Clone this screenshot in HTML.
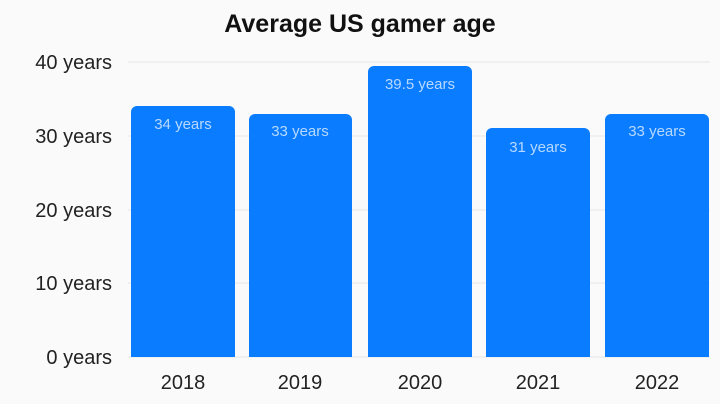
<!DOCTYPE html>
<html><head><meta charset="utf-8"><style>
body{margin:0;background:#fafafa;}
svg{display:block;font-family:"Liberation Sans",sans-serif;}
</style></head><body>
<svg width="720" height="404" viewBox="0 0 720 404">
<rect width="720" height="404" fill="#fafafa"/>
<text x="360" y="32" text-anchor="middle" font-size="25" font-weight="bold" fill="#111">Average US gamer age</text>
<g stroke="#e6e6e6" stroke-width="1">
<line x1="128" y1="62" x2="710" y2="62"/>
<line x1="128" y1="136" x2="710" y2="136"/>
<line x1="128" y1="210" x2="710" y2="210"/>
<line x1="128" y1="283" x2="710" y2="283"/>
<line x1="128" y1="357" x2="710" y2="357"/>
</g>
<g font-size="20" fill="#222" text-anchor="end">
<text x="112" y="69">40 years</text>
<text x="112" y="143">30 years</text>
<text x="112" y="217">20 years</text>
<text x="112" y="290">10 years</text>
<text x="112" y="364">0 years</text>
</g>
<g fill="#0a7cff">
<path d="M131 357V112a6 6 0 0 1 6-6h92a6 6 0 0 1 6 6V357z"/>
<path d="M249 357V120a6 6 0 0 1 6-6h91a6 6 0 0 1 6 6V357z"/>
<path d="M368 357V72a6 6 0 0 1 6-6h92a6 6 0 0 1 6 6V357z"/>
<path d="M486 357V134a6 6 0 0 1 6-6h92a6 6 0 0 1 6 6V357z"/>
<path d="M605 357V120a6 6 0 0 1 6-6h92a6 6 0 0 1 6 6V357z"/>
</g>
<g font-size="15" fill="#b8d9ff" text-anchor="middle">
<text x="183" y="129">34 years</text>
<text x="300" y="136">33 years</text>
<text x="420" y="89">39.5 years</text>
<text x="538" y="152">31 years</text>
<text x="657" y="136">33 years</text>
</g>
<g font-size="20" fill="#222" text-anchor="middle">
<text x="183" y="389">2018</text>
<text x="300" y="389">2019</text>
<text x="420" y="389">2020</text>
<text x="538" y="389">2021</text>
<text x="657" y="389">2022</text>
</g>
</svg>
</body></html>
